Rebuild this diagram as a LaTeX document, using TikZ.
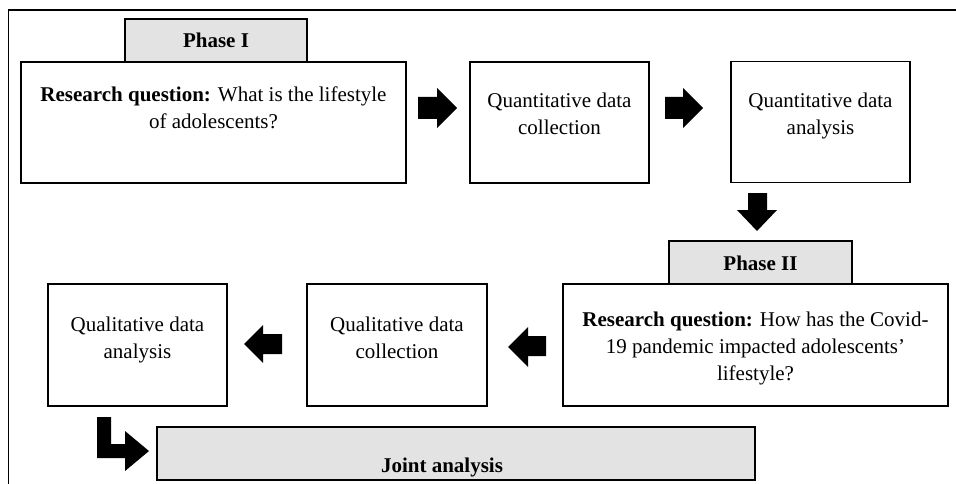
\documentclass[tikz,border=0pt]{standalone}
\usepackage{fontspec}
\setmainfont{Liberation Serif}
\definecolor{tabgray}{HTML}{E2E3E2}
\begin{document}
\begin{tikzpicture}[x=1pt,y=-1pt,
  box/.style={draw, line width=1.8pt, inner sep=0pt, fill=white},
  tabbox/.style={draw, line width=1.8pt, inner sep=0pt, fill=tabgray},
  txt/.style={align=center, inner sep=0pt, anchor=north, font=\fontsize{21}{27}\selectfont},
  boldtxt/.style={inner sep=0pt, anchor=base, font=\fontsize{21}{27}\selectfont\bfseries},
  blockarrow/.style={fill=black}]
\useasboundingbox (0,0) rectangle (956,484);
% outer frame
\draw[line width=1.8pt] (8.5,484) -- (8.5,10) -- (956,10);
% tabs
\node[tabbox, minimum width=182pt, minimum height=43pt] (tab1) at (216,40.5) {};
\node[tabbox, minimum width=183pt, minimum height=43pt] (tab2) at (760.5,262.5) {};
% boxes
\node[box, minimum width=385pt, minimum height=121pt] (rq1) at (213.5,122.5) {};
\node[box, minimum width=179pt, minimum height=121pt] (qc) at (559.5,122.5) {};
\node[box, minimum width=179pt, minimum height=121pt] (qa) at (820.5,122) {};
\node[box, minimum width=385pt, minimum height=122pt] (rq2) at (755.5,345) {};
\node[box, minimum width=180pt, minimum height=122pt] (qlc) at (397,345) {};
\node[box, minimum width=179pt, minimum height=122pt] (qla) at (137.5,345) {};
\node[tabbox, minimum width=598pt, minimum height=53pt] (joint) at (456,453.5) {};
% texts
\node[boldtxt] (tab1t) at (216,48) {Phase I};
\node[boldtxt] (tab2t) at (760.5,270) {Phase II};
\node[txt] (rq1t) at (213.5,86.7) {\textbf{Research question:} What is the lifestyle\\of adolescents?};
\node[txt] (qct) at (559.5,92.7) {Quantitative data\\collection};
\node[txt] (qat) at (820.5,92.7) {Quantitative data\\analysis};
\node[txt] (rq2t) at (755.5,311.7) {\textbf{Research question:} How has the Covid-\\19 pandemic impacted adolescents'\\lifestyle?};
\node[txt] (qlct) at (397,316.7) {Qualitative data\\collection};
\node[txt] (qlat) at (137.5,316.7) {Qualitative data\\analysis};
\node[boldtxt] (jointt) at (442,472) {Joint analysis};
% block arrows
\fill[blockarrow] (418,97) -- (437,97) -- (437,88) -- (457,108) -- (437,128) -- (437,119) -- (418,119) -- cycle;
\fill[blockarrow] (665,97) -- (683,97) -- (683,88) -- (703,108) -- (683,128) -- (683,119) -- (665,119) -- cycle;
\fill[blockarrow] (748,193) -- (767,193) -- (767,210) -- (777,210) -- (757,231) -- (737,210) -- (748,210) -- cycle;
\fill[blockarrow] (546,336) -- (528,336) -- (528,327) -- (508,347) -- (528,367) -- (528,356) -- (546,356) -- cycle;
\fill[blockarrow] (282,334) -- (263,334) -- (263,325) -- (244,344) -- (263,363) -- (263,354) -- (282,354) -- cycle;
\fill[blockarrow] (97,417) -- (111,417) -- (111,444) -- (125,444) -- (125,431) -- (149,451) -- (125,471) -- (125,458) -- (97,458) -- cycle;
\end{tikzpicture}
\end{document}
